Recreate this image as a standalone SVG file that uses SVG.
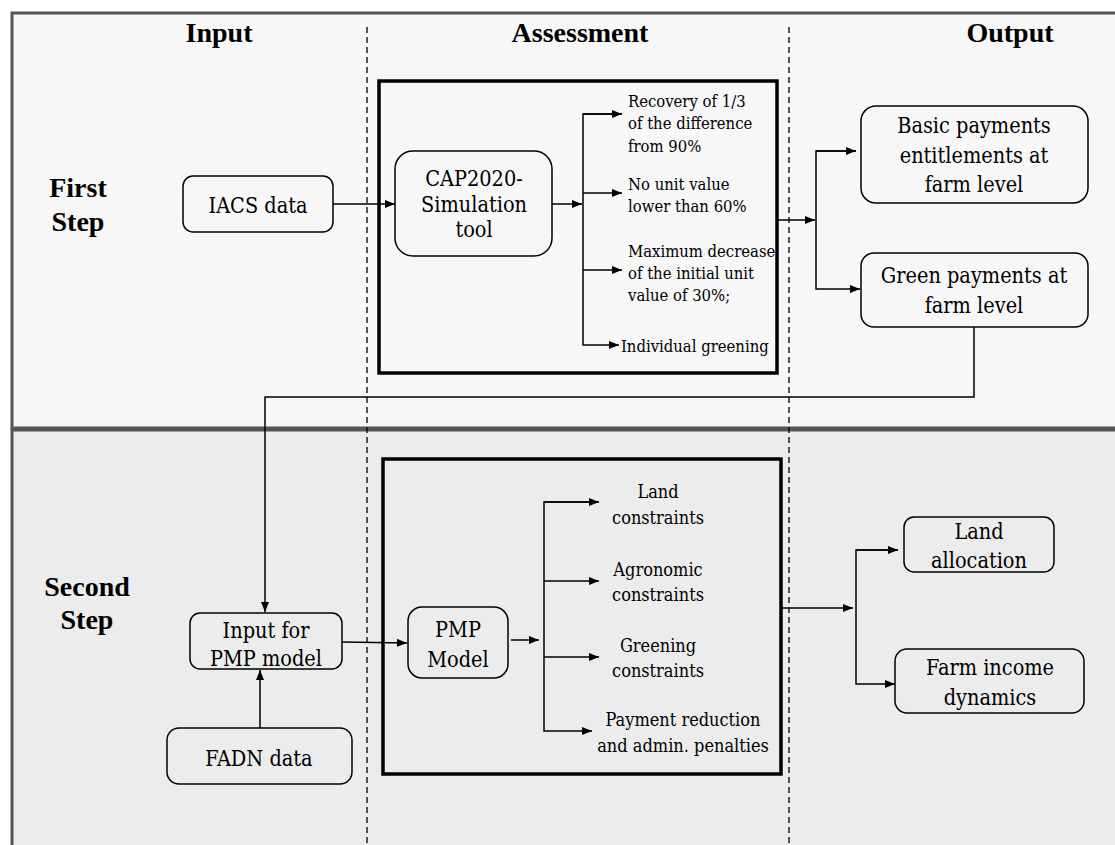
<svg xmlns="http://www.w3.org/2000/svg" width="1115" height="845" viewBox="0 0 1115 845">
<style>
.hdr{font-family:"Liberation Serif",serif;font-weight:bold;font-size:28px;fill:#000;text-anchor:middle}
.t{font-family:"DejaVu Serif",serif;font-stretch:condensed;font-size:21.5px;fill:#000;text-anchor:middle}
.s{font-family:"DejaVu Serif",serif;font-stretch:condensed;font-size:16.5px;fill:#000}
.m{font-family:"DejaVu Serif",serif;font-stretch:condensed;font-size:18px;fill:#000;text-anchor:middle}
.box{fill:none;stroke:#000;stroke-width:1.5}
.frame{fill:none;stroke:#000;stroke-width:3.5}
.c{fill:none;stroke:#000;stroke-width:1.5}
.dash{stroke:#000;stroke-width:1.3;stroke-dasharray:6,4}
</style>
<defs>
<marker id="ah" markerUnits="userSpaceOnUse" markerWidth="11" markerHeight="9" refX="10" refY="4" orient="auto">
<path d="M0,0 L10,4 L0,8 z" fill="#000"/>
</marker>
</defs>
<rect width="1115" height="845" fill="#ffffff"/>
<g id="panels">
<rect x="12" y="13" width="1120" height="415" fill="#f7f7f7" stroke="#555" stroke-width="3"/>
<rect x="12" y="430" width="1120" height="430" fill="#ececec" stroke="#555" stroke-width="3"/>
</g>
<g id="dividers">
<line class="dash" x1="367" y1="27" x2="367" y2="845"/>
<line class="dash" x1="789" y1="27" x2="789" y2="845"/>
</g>
<g id="headers">
<text class="hdr" x="219" y="42">Input</text>
<text class="hdr" x="580" y="42">Assessment</text>
<text class="hdr" x="1010" y="42">Output</text>
<text class="hdr" x="78" y="197">First</text>
<text class="hdr" x="78" y="231">Step</text>
<text class="hdr" x="87" y="596">Second</text>
<text class="hdr" x="87" y="629">Step</text>
</g>
<g id="assessment1"><rect class="frame" x="379" y="81" width="398" height="292"/></g>
<g id="assessment2"><rect class="frame" x="383" y="459" width="398" height="315"/></g>
<g id="iacs"><rect class="box" x="183" y="176" width="150" height="56" rx="10"/><text class="t" x="258" y="213">IACS data</text></g>
<g id="cap2020"><rect class="box" x="395" y="151" width="157" height="105" rx="18"/>
<text class="t" x="474" y="186">CAP2020-</text><text class="t" x="474" y="212">Simulation</text><text class="t" x="474" y="237">tool</text></g>
<g id="rule1"><text class="s" x="628" y="107">Recovery of 1/3</text><text class="s" x="628" y="129">of the difference</text><text class="s" x="628" y="152">from 90%</text></g>
<g id="rule2"><text class="s" x="628" y="190">No unit value</text><text class="s" x="628" y="212">lower than 60%</text></g>
<g id="rule3"><text class="s" x="628" y="257">Maximum decrease</text><text class="s" x="628" y="279">of the initial unit</text><text class="s" x="628" y="301">value of 30%;</text></g>
<g id="rule4"><text class="s" x="621" y="352">Individual greening</text></g>
<g id="basic"><rect class="box" x="861" y="106" width="227" height="97" rx="15"/>
<text class="t" x="974" y="133">Basic payments</text><text class="t" x="974" y="163">entitlements at</text><text class="t" x="974" y="192">farm level</text></g>
<g id="green"><rect class="box" x="861" y="253" width="227" height="74" rx="13"/>
<text class="t" x="974" y="283">Green payments at</text><text class="t" x="974" y="313">farm level</text></g>
<g id="inputpmp"><rect class="box" x="190" y="613" width="152" height="56" rx="10"/>
<text class="t" x="266" y="638">Input for</text><text class="t" x="266" y="666">PMP model</text></g>
<g id="fadn"><rect class="box" x="167" y="728" width="185" height="56" rx="12"/><text class="t" x="259" y="766">FADN data</text></g>
<g id="pmp"><rect class="box" x="408" y="607" width="100" height="71" rx="14"/>
<text class="t" x="458" y="637">PMP</text><text class="t" x="458" y="667">Model</text></g>
<g id="c1"><text class="m" x="658" y="498">Land</text><text class="m" x="658" y="524">constraints</text></g>
<g id="c2"><text class="m" x="658" y="576">Agronomic</text><text class="m" x="658" y="601">constraints</text></g>
<g id="c3"><text class="m" x="658" y="652">Greening</text><text class="m" x="658" y="677">constraints</text></g>
<g id="c4"><text class="m" x="683" y="726">Payment reduction</text><text class="m" x="683" y="752">and admin. penalties</text></g>
<g id="landalloc"><rect class="box" x="904" y="517" width="150" height="55" rx="10"/>
<text class="t" x="979" y="539">Land</text><text class="t" x="979" y="568">allocation</text></g>
<g id="farmincome"><rect class="box" x="895" y="649" width="189" height="64" rx="12"/>
<text class="t" x="990" y="675">Farm income</text><text class="t" x="990" y="705">dynamics</text></g>
<g id="connectors">
<line class="c" x1="333" y1="204" x2="395" y2="204" marker-end="url(#ah)"/>
<line class="c" x1="552" y1="204" x2="582" y2="204" marker-end="url(#ah)"/>
<polyline class="c" points="622,114 583,114 583,345 619,345" marker-end="url(#ah)"/>
<line class="c" x1="583" y1="114" x2="622" y2="114" marker-end="url(#ah)"/>
<line class="c" x1="583" y1="193" x2="622" y2="193" marker-end="url(#ah)"/>
<line class="c" x1="583" y1="270" x2="622" y2="270" marker-end="url(#ah)"/>
<line class="c" x1="777" y1="220" x2="815" y2="220" marker-end="url(#ah)"/>
<polyline class="c" points="856,151 816,151 816,289 860,289" marker-end="url(#ah)"/>
<line class="c" x1="816" y1="151" x2="856" y2="151" marker-end="url(#ah)"/>
<polyline class="c" points="974,327 974,397 265,397 265,612" marker-end="url(#ah)"/>
<line class="c" x1="260" y1="728" x2="260" y2="670" marker-end="url(#ah)"/>
<line class="c" x1="342" y1="642" x2="407" y2="643" marker-end="url(#ah)"/>
<line class="c" x1="511" y1="640" x2="539" y2="640" marker-end="url(#ah)"/>
<polyline class="c" points="599,502 544,502 544,731 592,731" marker-end="url(#ah)"/>
<line class="c" x1="544" y1="502" x2="599" y2="502" marker-end="url(#ah)"/>
<line class="c" x1="544" y1="581" x2="599" y2="581" marker-end="url(#ah)"/>
<line class="c" x1="544" y1="657" x2="599" y2="657" marker-end="url(#ah)"/>
<line class="c" x1="781" y1="608" x2="853" y2="608" marker-end="url(#ah)"/>
<polyline class="c" points="898,550 856,550 856,684 895,684" marker-end="url(#ah)"/>
<line class="c" x1="856" y1="550" x2="898" y2="550" marker-end="url(#ah)"/>
</g>
</svg>
